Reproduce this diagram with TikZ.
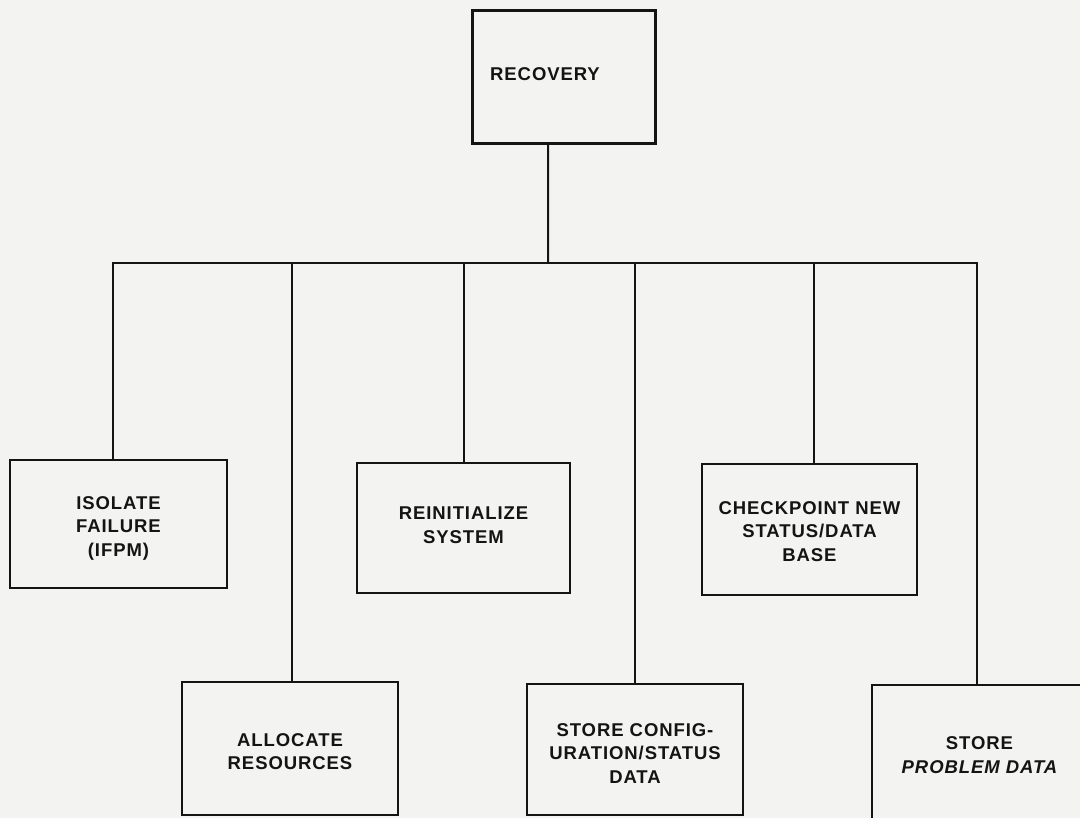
\documentclass[tikz,border=0pt]{standalone}
\usepackage{fontspec}
\newfontfamily\boxfont[LetterSpace=5]{Liberation Sans}
% move a label inside its box without changing the box's extent
\newcommand{\shiftlabel}[3]{\raisebox{#1}[\height][\depth]{\parbox{#2}{\centering #3}}}
\begin{document}
\begin{tikzpicture}[x=1bp,y=-1bp,
  box/.style={draw=ink, line width=2.8bp, fill=paper, align=center,
    inner sep=0pt, font=\boxfont\bfseries\fontsize{18.5bp}{23.5bp}\selectfont,
    text=ink},
  conn/.style={draw=ink, line width=2bp}]
\definecolor{paper}{HTML}{F3F3F1}
\definecolor{ink}{HTML}{141414}
% page
\fill[paper] (0,0) rectangle (1080,818);
\useasboundingbox (0,0) rectangle (1080,818);
\begin{scope}
\clip (0,0) rectangle (1080,818);
% boxes (centres and sizes in pixels)
\node[box, minimum width=183bp, minimum height=133bp] (rec) at (564,77)
  {\raisebox{5bp}{RECOVERY}\hspace*{38bp}};
\node[box, minimum width=217bp, minimum height=128bp] (iso) at (118.5,524)
  {\shiftlabel{-4bp}{150bp}{ISOLATE\\FAILURE\\(IFPM)}};
\node[box, minimum width=216bp, minimum height=133bp] (alloc) at (290,748.5)
  {\shiftlabel{-3bp}{180bp}{ALLOCATE\\RESOURCES}};
\node[box, minimum width=213bp, minimum height=130bp] (reinit) at (463.5,528)
  {\shiftlabel{3bp}{180bp}{REINITIALIZE\\SYSTEM}};
\node[box, minimum width=216bp, minimum height=131bp] (conf) at (635,749.5)
  {\shiftlabel{-4bp}{200bp}{STORE CONFIG-\\URATION/STATUS\\DATA}};
\node[box, minimum width=215bp, minimum height=131bp] (chk) at (809.5,529.5)
  {\shiftlabel{-2bp}{200bp}{CHECKPOINT NEW\\STATUS/DATA\\BASE}};
\node[box, minimum width=215bp, minimum height=140bp] (prob) at (979.5,755)
  {\shiftlabel{0bp}{200bp}{STORE\\{\itshape PROBLEM DATA}}};
% tree connectors
\coordinate (bus) at (548,263);
\draw[conn] ([xshift=-16bp]rec.south) -- (bus);
\draw[conn] (bus) -| ([xshift=-5.5bp]iso.north);
\draw[conn] (bus) -| ([xshift=2bp]alloc.north);
\draw[conn] (bus) -| (reinit.north);
\draw[conn] (bus) -| (conf.north);
\draw[conn] (bus) -| ([xshift=4.5bp]chk.north);
\draw[conn] (bus) -| ([xshift=-2.5bp]prob.north);
\end{scope}
\end{tikzpicture}
\end{document}
